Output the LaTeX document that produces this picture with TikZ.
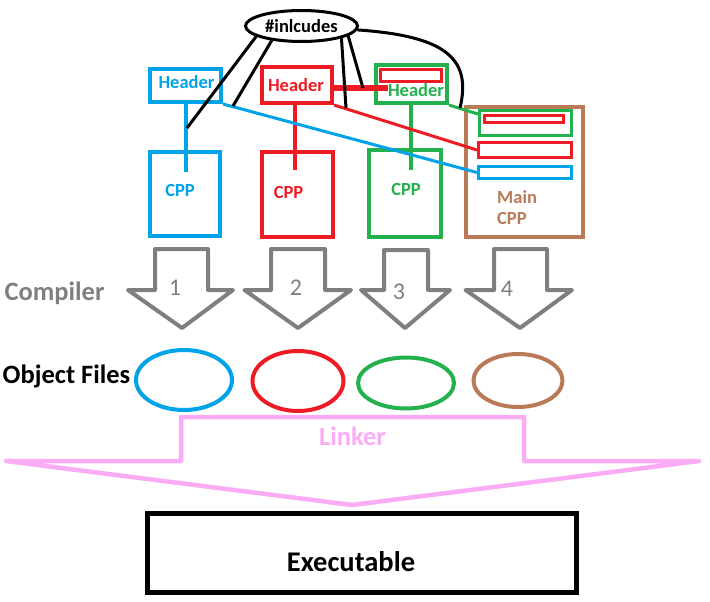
\documentclass[tikz,border=0pt]{standalone}
\usepackage{fontspec}
\setmainfont{Carlito}
\usetikzlibrary{shapes.geometric,calc}
\definecolor{cblue}{RGB}{0,162,232}
\definecolor{cred}{RGB}{237,28,36}
\definecolor{cgreen}{RGB}{34,177,76}
\definecolor{cbrown}{RGB}{185,122,87}
\definecolor{cgrey}{RGB}{127,127,127}
\definecolor{cpink}{RGB}{250,172,245}
\begin{document}
\begin{tikzpicture}[x=1pt,y=-1pt,
  box/.style={draw=#1, line width=4pt, inner sep=0pt},
  sub/.style={draw=#1, line width=3pt, inner sep=0pt},
  lbl/.style={inner sep=0pt, font=\fontsize{18.5}{20}\selectfont\bfseries, text=#1},
  big/.style={inner sep=0pt, font=\fontsize{26.5}{28}\selectfont\bfseries, text=#1},
  num/.style={inner sep=0pt, font=\fontsize{24}{26}\selectfont, text=cgrey},
  link/.style={draw=#1, line width=4pt},
  thinl/.style={draw=#1, line width=3pt},
  incl/.style={draw=black, line width=3pt},
  comp/.style={draw=cgrey, line width=4pt, line join=round},
  obj/.style={draw=#1, line width=4pt, ellipse, inner sep=0pt},
]
\useasboundingbox (0,0) rectangle (710,602);

% include ellipse
\node[draw=black, line width=3pt, ellipse, inner sep=0pt, minimum width=112pt, minimum height=31pt,
      font=\fontsize{18.5}{20}\selectfont\bfseries] (inc) at (301.5,26) {\#inlcudes};

% headers and cpp boxes
\node[box=cblue, minimum width=71pt, minimum height=33pt] (h1) at (185.5,85.5) {};
\node[box=cblue, minimum width=70pt, minimum height=84pt] (c1) at (185,194) {};
\node[box=cred, minimum width=70pt, minimum height=36pt] (h2) at (297,85) {};
\node[box=cred, minimum width=71pt, minimum height=85pt] (c2) at (297.5,194.5) {};
\node[box=cgreen, minimum width=71pt, minimum height=38pt] (h3) at (411.5,84) {};
\node[sub=cred, minimum width=61pt, minimum height=12pt] (h3r) at (411,75.5) {};
\node[box=cgreen, minimum width=72pt, minimum height=87pt] (c3) at (405,193.5) {};
\node[box=cbrown, minimum width=117pt, minimum height=130pt] (m) at (524.5,172) {};
\node[sub=cgreen, minimum width=92pt, minimum height=25pt] (mg) at (525.5,123) {};
\node[sub=cred, minimum width=79pt, minimum height=7pt] (mgr) at (524,119) {};
\node[sub=cred, minimum width=93pt, minimum height=15pt] (mr) at (525,150) {};
\node[sub=cblue, minimum width=93pt, minimum height=12pt] (mb) at (525,172.5) {};

% texts
\node[lbl=cblue] (t1) at (186.5,82.5) {Header};
\node[lbl=cred] (t2) at (296,85) {Header};
\node[lbl=cgreen] (t3) at (416,90.5) {Header};
\node[lbl=cblue] (p1) at (180,190.5) {CPP};
\node[lbl=cred] (p2) at (288.5,192) {CPP};
\node[lbl=cgreen] (p3) at (406,189.5) {CPP};
\node[lbl=cbrown, anchor=west] (p4a) at (497,197) {Main};
\node[lbl=cbrown, anchor=west] (p4b) at (497,218.5) {CPP};

% vertical connectors
\coordinate (e1) at (186,172);
\coordinate (e2) at (295,170);
\coordinate (e3) at (411,170);
\draw[link=cblue] (e1 |- h1.south) -- (e1);
\draw[link=cred] (e2 |- h2.south) -- (e2);
\draw[link=cgreen] (e3 |- h3.south) -- (e3);
\coordinate (e4) at (388,88);
\draw[cred, line width=6pt] (e4 -| h2.east) -- (e4);

% diagonal connectors into main
\draw[thinl=cblue] (h1.south east) -- (mb.west);
\draw[thinl=cred] (h2.south east) -- (mr.west);
\draw[thinl=cgreen] (h3.south east) -- ($(mg.north west)!0.18!(mg.south west)$);

% include lines
\coordinate (b1) at (187,128);
\coordinate (b2) at (233,106);
\coordinate (b3) at (346,108);
\coordinate (b4) at (363,88);
\coordinate (b5) at (460,108);
\draw[incl] (inc.193) -- (b1);
\draw[incl] (inc.206) -- (b2);
\draw[incl] (inc.343) -- (b3);
\draw[incl] (inc.348) -- (b4);
\draw[incl] (inc.356) .. controls (445,36) and (472,58) .. (b5);

% compiler
\node[big=cgrey] (comp) at (54.5,293) {Compiler};
\draw[comp] (155,249) -- (208,249) -- (208,290) -- (233,290) -- (182,328) -- (128,290) -- (155,290) -- cycle;
\draw[comp] (271,249) -- (325,249) -- (325,290) -- (351,290) -- (298,328) -- (244.5,290) -- (271,290) -- cycle;
\draw[comp] (384,250) -- (428,250) -- (428,290) -- (450,290) -- (405,328) -- (361,290) -- (384,290) -- cycle;
\draw[comp] (494,249) -- (547,249) -- (547,290) -- (572,290) -- (520,328) -- (465.5,290) -- (494,290) -- cycle;
\node[num] (n1) at (175,288) {1};
\node[num] (n2) at (296,288) {2};
\node[num] (n3) at (399,291.5) {3};
\node[num] (n4) at (507,289) {4};

% object files
\node[big=black] (objl) at (66.5,376.5) {Object Files};
\node[obj=cblue, minimum width=96pt, minimum height=60pt] (o1) at (184,380) {};
\node[obj=cred, minimum width=91pt, minimum height=60pt] (o2) at (298,381) {};
\node[obj=cgreen, minimum width=96pt, minimum height=51pt] (o3) at (406,383) {};
\node[obj=cbrown, minimum width=89pt, minimum height=53pt] (o4) at (518,380.5) {};

% linker
\draw[cpink, line width=4.5pt, line join=round] (181,417) -- (524,417) -- (524,461) -- (699,461) -- (352,505) -- (6,461) -- (181,461) -- cycle;
\node[big=cpink] (lk) at (352.5,436) {Linker};

% executable
\node[draw=black, line width=5pt, minimum width=429pt, minimum height=79pt, inner sep=0pt] (ex) at (362,553) {};
\node[inner sep=0pt, font=\fontsize{28.5}{30}\selectfont\bfseries] (ext) at (351,561.5) {Executable};
\end{tikzpicture}
\end{document}
